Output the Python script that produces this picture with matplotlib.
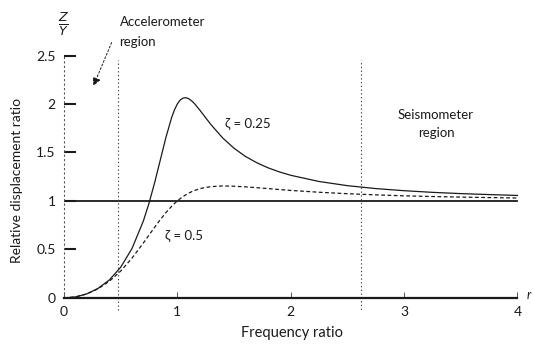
import matplotlib
matplotlib.use("Agg")
import matplotlib.pyplot as plt

plt.rcParams['font.family'] = ['Lato', 'DejaVu Sans']

# Frequency ratio r = omega / omega_n
freq_ratio = [0, 0.1, 0.2, 0.3, 0.4, 0.5, 0.6, 0.7, 0.75, 0.8, 0.85, 0.9, 0.95,
              0.975, 1.0, 1.025, 1.05, 1.075, 1.1, 1.125, 1.15, 1.2, 1.25,
              1.3, 1.4, 1.5, 1.6, 1.7, 1.8, 1.9, 2.0, 2.25, 2.5, 2.75, 3.0,
              3.25, 3.5, 3.75, 4.0]

# Relative displacement ratio Z/Y for two damping ratios
ratio_zeta_025 = [0, 0.010, 0.041, 0.098, 0.185, 0.316, 0.509, 0.792, 0.976,
                  1.189, 1.423, 1.658, 1.861, 1.940, 2.000, 2.040, 2.061,
                  2.065, 2.055, 2.034, 2.006, 1.935, 1.858, 1.783, 1.650,
                  1.544, 1.460, 1.395, 1.342, 1.300, 1.265, 1.201, 1.158,
                  1.128, 1.106, 1.089, 1.076, 1.066, 1.057]
ratio_zeta_05 = [0, 0.010, 0.041, 0.094, 0.172, 0.277, 0.410, 0.566, 0.648,
                 0.729, 0.808, 0.881, 0.945, 0.974, 1.000, 1.024, 1.045,
                 1.064, 1.080, 1.095, 1.107, 1.127, 1.140, 1.148, 1.155,
                 1.152, 1.146, 1.137, 1.128, 1.118, 1.109, 1.090, 1.075,
                 1.063, 1.053, 1.046, 1.040, 1.035, 1.031]

x_ticks = [0, 1, 2, 3, 4]
x_tick_labels = ['0', '1', '2', '3', '4']
y_ticks = [0, 0.5, 1, 1.5, 2, 2.5]
y_tick_labels = ['0', '0.5', '1', '1.5', '2', '2.5']

accel_boundary = 0.48
seismo_boundary = 2.62
unity_level = 1.0

ink = '#1a1a1a'

fig = plt.figure(figsize=(5.33, 3.49), dpi=100)
ax = fig.add_axes([0.12, 0.1046, 0.872, 0.778])
ax.set_xlim(0, 4.1)
ax.set_ylim(-0.15, 2.65)

# Axes: dotted vertical axis, heavy baseline at zero
for side in ('top', 'right'):
    ax.spines[side].set_visible(False)
ax.spines['left'].set_position(('data', 0))
ax.spines['left'].set_bounds(0, 2.5)
ax.spines['left'].set_linestyle((0, (1, 3)))
ax.spines['left'].set_linewidth(0.8)
ax.spines['left'].set_color('#555555')
ax.spines['bottom'].set_position(('data', 0))
ax.spines['bottom'].set_bounds(0, 4)
ax.spines['bottom'].set_linewidth(1.6)
ax.spines['bottom'].set_color(ink)

ax.set_xticks(x_ticks)
ax.set_xticklabels(x_tick_labels)
ax.set_yticks(y_ticks)
ax.set_yticklabels(y_tick_labels)
ax.tick_params(axis='y', direction='in', length=8.5, width=1.5, color=ink,
               pad=6, labelsize=10, labelcolor=ink)
ax.tick_params(axis='x', direction='in', length=4, width=0.7, color='#555555',
               pad=6, labelsize=10, labelcolor=ink)
ax.yaxis.get_major_ticks()[0].tick1line.set_visible(False)

# Unity reference line
ax.axhline(unity_level, xmin=0, xmax=4 / 4.1, color=ink, lw=1.3)

# Region boundaries
ax.vlines([accel_boundary], -0.12, 2.45, colors='#444444', linestyles=(0, (1.2, 2.2)), lw=0.8)
ax.vlines([seismo_boundary], -0.2, 2.45, colors='#444444', linestyles=(0, (1.2, 2.2)), lw=0.8)

# Response curves
ax.plot(freq_ratio, ratio_zeta_025, color=ink, lw=0.9)
ax.plot(freq_ratio, ratio_zeta_05, color=ink, lw=0.9, linestyle=(0, (3, 2)))

# Annotations
fs = 9.5
ax.text(1.42, 1.80, 'ζ = 0.25', fontsize=fs, color=ink, va='center')
ax.text(0.89, 0.65, 'ζ = 0.5', fontsize=fs, color=ink, va='center')
ax.text(3.28, 1.89, 'Seismometer', fontsize=fs, color=ink, ha='center', va='center')
ax.text(3.29, 1.70, 'region', fontsize=fs, color=ink, ha='center', va='center')
ax.text(0.49, 2.85, 'Accelerometer', fontsize=fs, color=ink, va='center')
ax.text(0.49, 2.64, 'region', fontsize=fs, color=ink, va='center')
ax.annotate('', xy=(0.25, 2.16), xytext=(0.43, 2.66), annotation_clip=False,
            arrowprops=dict(arrowstyle='-|>', color=ink, lw=0.7,
                            linestyle=(0, (2, 2)), mutation_scale=12))
ax.text(4.08, 0.03, 'r', fontsize=9, style='italic', color=ink, va='center')

ax.text(0.0, 2.82, r'$\frac{Z}{Y}$', fontsize=13, color=ink, ha='center', va='center')

fig.text(292 / 533, 1 - 333 / 349, 'Frequency ratio', fontsize=10.5, color=ink,
         ha='center', va='center')
fig.text(17 / 533, 1 - 180 / 349, 'Relative displacement ratio', fontsize=10,
         color=ink, ha='center', va='center', rotation=90)

fig.savefig('out.png', dpi=100)
